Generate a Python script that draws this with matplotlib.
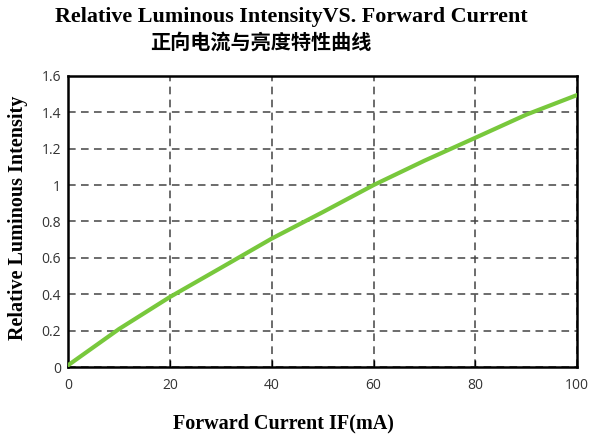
import numpy as np
import matplotlib.pyplot as plt

# forward current (mA) vs relative luminous intensity
current_ma = [0, 10, 20, 30, 40, 50, 60, 70, 80, 90, 100]
rel_intensity = [0.01, 0.209, 0.385, 0.545, 0.706, 0.851, 1.0, 1.134, 1.26, 1.387, 1.495]

x_ticks = [0, 20, 40, 60, 80, 100]
y_ticks = [0, 0.2, 0.4, 0.6, 0.8, 1.0, 1.2, 1.4, 1.6]
y_tick_labels = ["0", "0.2", "0.4", "0.6", "0.8", "1", "1.2", "1.4", "1.6"]

SERIF = ["Liberation Serif", "DejaVu Serif"]
CJK = ["Noto Sans CJK SC", "DejaVu Sans"]

fig = plt.figure(figsize=(5.89, 4.36), dpi=100)
ax = fig.add_axes([0.1155, 0.158, 0.8645, 0.668])

ax.plot(current_ma, rel_intensity, color="#78C83C", lw=3, solid_capstyle="round", zorder=3)

ax.set_xlim(0, 100)
ax.set_ylim(0, 1.6)
ax.set_xticks(x_ticks)
ax.set_yticks(y_ticks)
ax.set_yticklabels(y_tick_labels)

ax.grid(True, color="#444444", ls=(0, (5, 3.5)), lw=1.1)
for s in ax.spines.values():
    s.set_linewidth(1.8)
    s.set_color("black")

ax.tick_params(axis="x", direction="in", length=5, width=1, pad=8,
               labelsize=10, labelcolor="#333333")
ax.tick_params(axis="y", length=0, pad=5, labelsize=10, labelcolor="#333333")
for lbl in ax.get_xticklabels() + ax.get_yticklabels():
    lbl.set_family("Open Sans")

# axis titles placed where the datasheet has them (x title is off-centre)
fig.text(0.482, 0.028, "Forward Current IF(mA)", family=SERIF, fontweight="bold",
         fontsize=14.5, ha="center", va="center")
fig.text(0.031, 0.5, "Relative Luminous Intensity", family=SERIF, fontweight="bold",
         fontsize=14.5, ha="center", va="center", rotation=90)

fig.text(0.495, 0.962, "Relative Luminous IntensityVS. Forward Current",
         family=SERIF, fontweight="bold", fontsize=15.8, ha="center", va="center")
fig.text(0.443, 0.903, "正向电流与亮度特性曲线", family=CJK, fontweight="bold",
         fontsize=14.5, ha="center", va="center")

fig.savefig("out.png", dpi=100)
